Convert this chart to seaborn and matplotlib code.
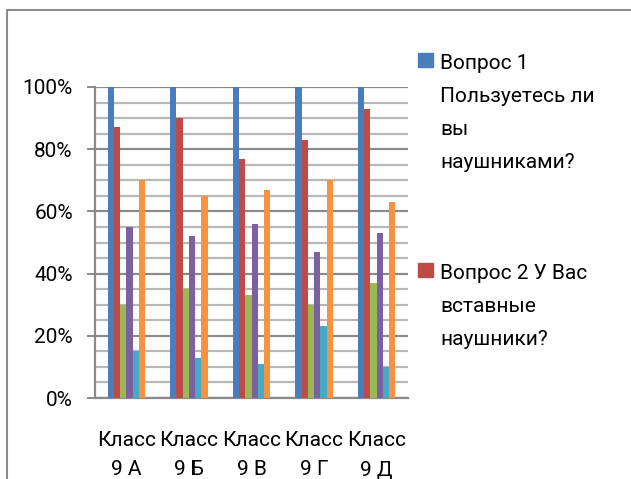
import seaborn as sns
import matplotlib.pyplot as plt
import pandas as pd
from matplotlib.lines import Line2D
from matplotlib.patches import Rectangle

sns.set_theme(style="white")
plt.rcParams['font.family'] = ['Roboto', 'DejaVu Sans']

classes = ["Класс\n9 А", "Класс\n9 Б", "Класс\n9 В", "Класс\n9 Г", "Класс\n9 Д"]
series = ["Вопрос 1 Пользуетесь ли вы наушниками?",
          "Вопрос 2 У Вас вставные наушники?",
          "Вопрос 3", "Вопрос 4", "Вопрос 5", "Вопрос 6"]
q1 = [100, 100, 100, 100, 100]
q2 = [87, 90, 77, 83, 93]
q3 = [30, 35, 33, 30, 37]
q4 = [55, 52, 56, 47, 53]
q5 = [15, 13, 11, 23, 10]
q6 = [70, 65, 67, 70, 63]
colors = ["#4A7EBB", "#BE4B48", "#98B954", "#7D60A0", "#46AAC5", "#F69240"]
legend_lines = [["Вопрос 1", "Пользуетесь ли", "вы", "наушниками?"],
                ["Вопрос 2 У Вас", "вставные", "наушники?"]]

rows = []
for name, vals in zip(series, [q1, q2, q3, q4, q5, q6]):
    for c, v in zip(classes, vals):
        rows.append({"class": c, "series": name, "value": v})
df = pd.DataFrame(rows)

W, H = 631, 479
fig = plt.figure(figsize=(6.31, 4.79), dpi=100)
ax = fig.add_axes([95/W, 1-398/H, 313/W, 311/H])

sns.barplot(data=df, x="class", y="value", hue="series", palette=colors,
            width=0.6, gap=0, saturation=1, legend=False, linewidth=0,
            ax=ax, zorder=3)

ax.set_ylim(0, 100)
ax.set_xlim(-0.5, 4.5)
ax.set_yticks(range(0, 101, 20))
ax.set_yticklabels([f"{v}%" for v in range(0, 101, 20)])
ax.set_yticks(range(0, 101, 5), minor=True)
ax.grid(True, axis="y", which="minor", color="#b8b8b8", linewidth=1.6, zorder=0)
ax.grid(True, axis="y", which="major", color="#8a8a8a", linewidth=1.6, zorder=1)
ax.set_axisbelow(True)
ax.set_xlabel("")
ax.set_ylabel("")
for s in ["top", "right"]:
    ax.spines[s].set_visible(False)
for s in ["left", "bottom"]:
    ax.spines[s].set_color("#8a8a8a")
    ax.spines[s].set_linewidth(1.6)
ax.tick_params(axis="y", which="major", direction="out", length=6, width=1.4,
               color="#8a8a8a", left=True, labelsize=15, pad=10, labelcolor="black")
ax.tick_params(axis="y", which="minor", length=0)
ax.tick_params(axis="x", length=0, labelsize=15, pad=24, labelcolor="black")
for t in ax.get_xticklabels():
    t.set_linespacing(1.65)

# legend: only the first two entries fit inside the chart frame
legend_top = [53, 263]
for col, lines, top in zip(colors, legend_lines, legend_top):
    fig.add_artist(Rectangle((418/W, 1-(top+14)/H), 15/W, 14/H,
                             transform=fig.transFigure, color=col))
    for i, line in enumerate(lines):
        fig.text(440/W, 1-(top+16+i*33)/H, line, fontsize=15, color="black",
                 va="baseline", ha="left")

# outer chart frame, cut by the picture edges
fig.add_artist(Line2D([7/W, 7/W], [0, 1-10/H], transform=fig.transFigure,
                      color="#8c8c8c", linewidth=1.5))
fig.add_artist(Line2D([7/W, 1], [1-10/H, 1-10/H], transform=fig.transFigure,
                      color="#8c8c8c", linewidth=1.5))

fig.savefig("out.png", dpi=100)
